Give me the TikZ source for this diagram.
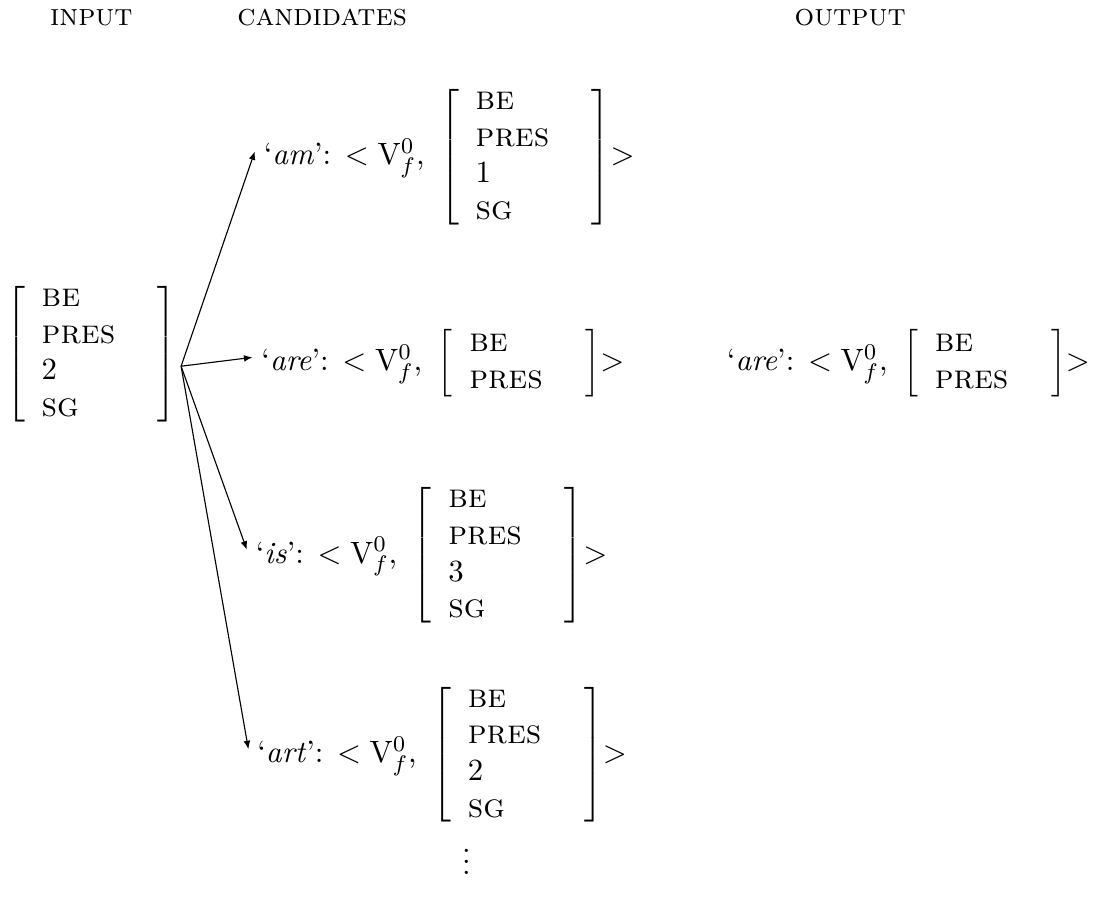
\documentclass[tikz,border=0pt,11pt]{standalone}
\usepackage{tikz}
\usetikzlibrary{positioning,arrows.meta}
\renewcommand{\arraystretch}{0.96}
\newcommand{\ft}[1]{\textsc{\large #1}}
\newcommand{\feat}[1]{$\left[\begin{tabular}{@{\hspace{6pt}}p{1.45cm}@{}}#1\end{tabular}\right]$}
\newcommand{\cand}[2]{`\textit{#1}\/': $<\mathrm{V}^0_f$,\ \,\feat{#2}$>$}

\begin{document}
\begin{tikzpicture}[
  head/.style={font=\scshape},
  avm/.style={inner sep=0pt},
  cand/.style={anchor=west,inner sep=3pt},
  arr/.style={-{Latex[length=3pt,width=2.4pt]},thin}]
  \useasboundingbox (0,0) rectangle (13.64,-11.52);
  % column heads
  \node[head] (hin) at (1.14,-0.22) {input};
  \node[head] (hcand) at (4.02,-0.22) {candidates};
  \node[head] (hout) at (10.61,-0.22) {output};
  % input
  \node[avm] (in) at (1.14,-4.42) {\feat{\ft{be}\\ \ft{pres}\\ 2\\ \ft{sg}}};
  \coordinate (fork) at (2.26,-4.57);
  % candidates
  \node[cand] (am) at (3.18,-1.96) {\cand{am}{\ft{be}\\ \ft{pres}\\ 1\\ \ft{sg}}};
  \node[cand] (are) at (3.15,-4.53) {\cand{are}{\ft{be}\\ \ft{pres}}};
  \node[cand] (is) at (3.08,-6.93) {\cand{is}{\ft{be}\\ \ft{pres}\\ 3\\ \ft{sg}}};
  \node[cand] (art) at (3.10,-9.42) {\cand{art}{\ft{be}\\ \ft{pres}\\ 2\\ \ft{sg}}};
  \node (more) at (5.82,-10.65) {$\vdots$};
  \foreach \n in {am,are,is,art} \draw[arr] (fork) -- ([yshift=2pt]\n.west);
  % output
  \node[cand] (out) at (8.96,-4.53) {\cand{are}{\ft{be}\\ \ft{pres}}};
\end{tikzpicture}
\end{document}
